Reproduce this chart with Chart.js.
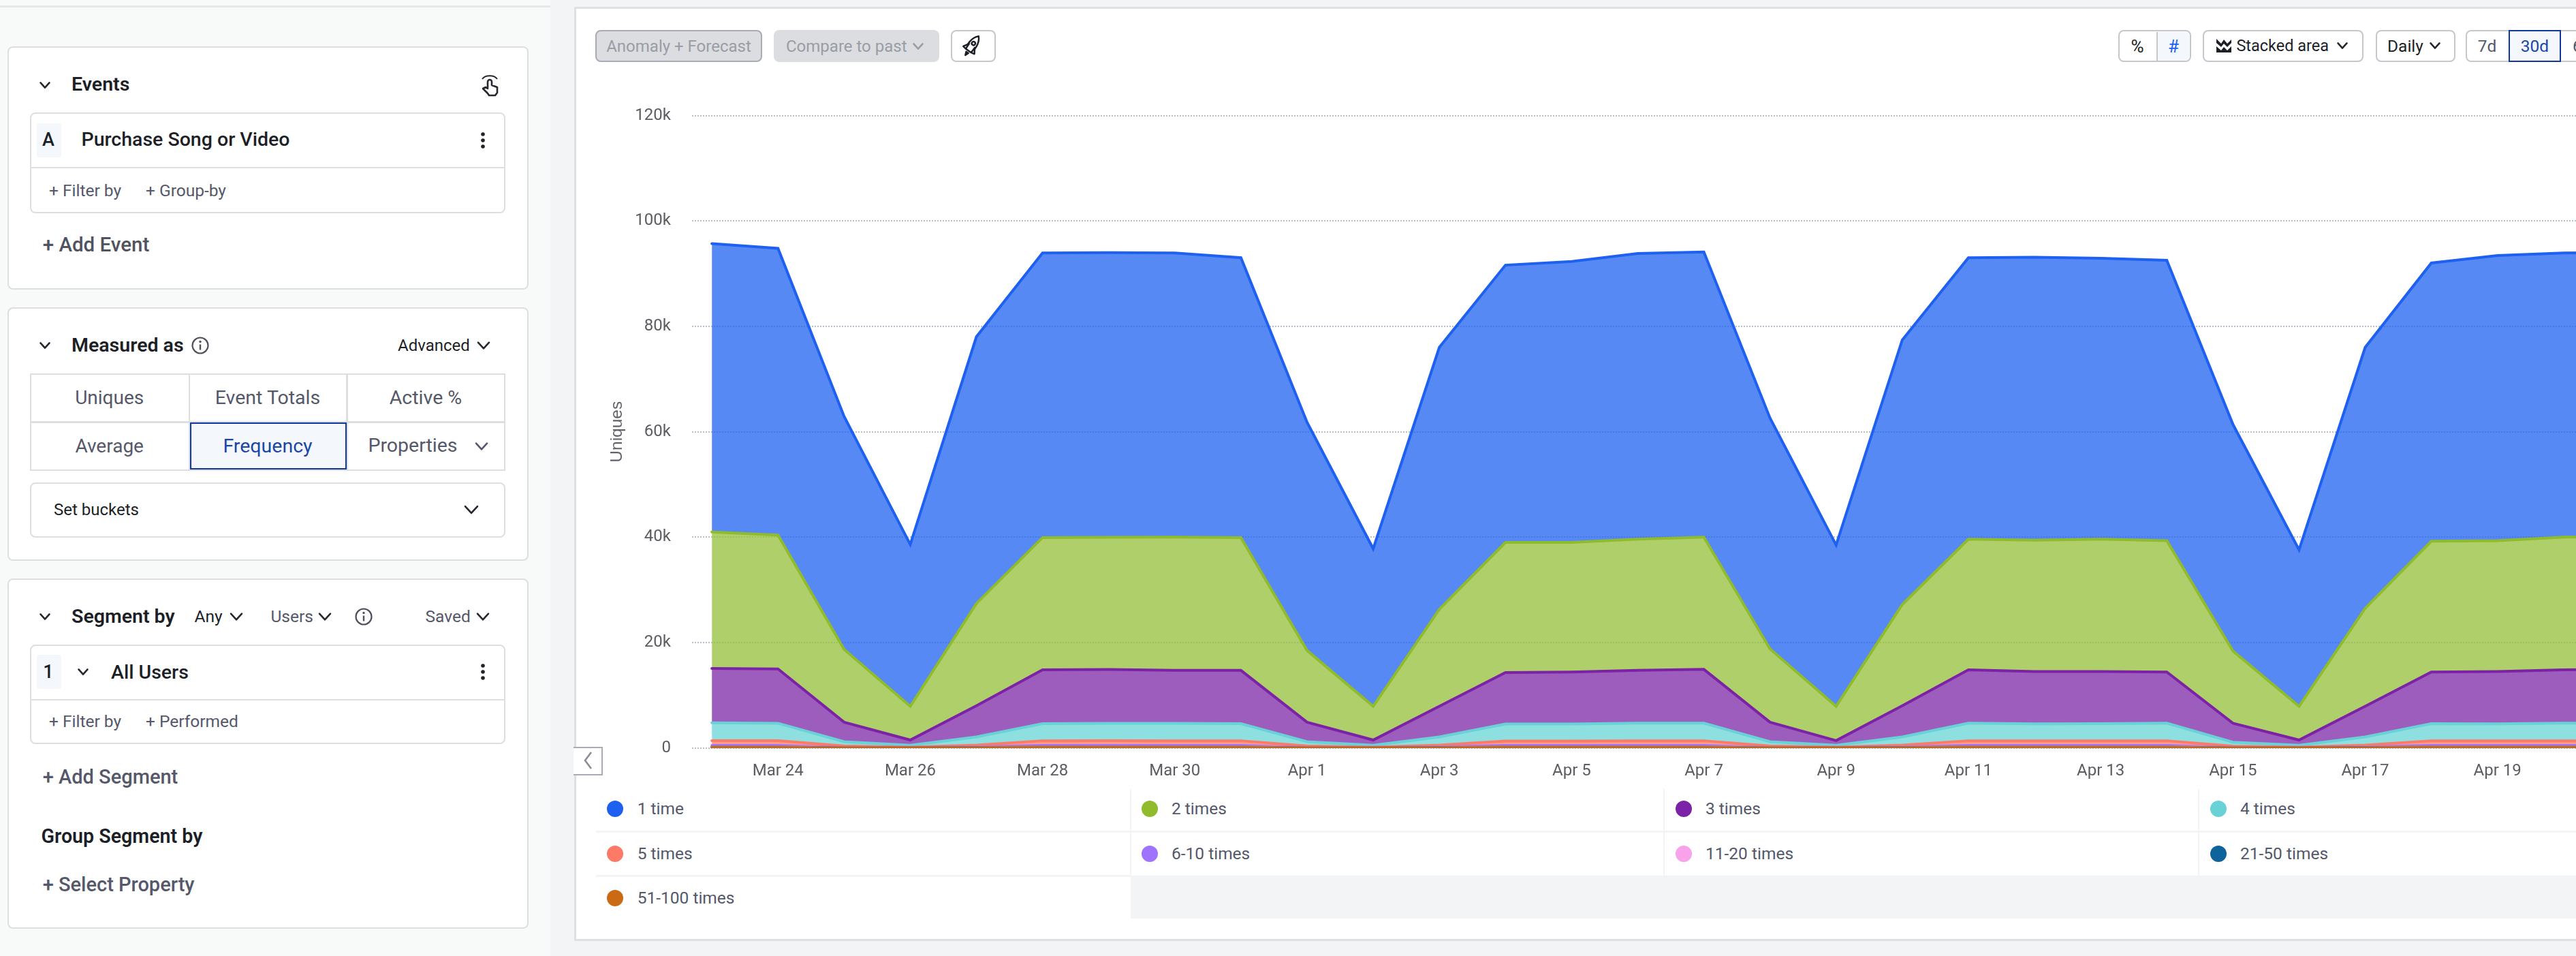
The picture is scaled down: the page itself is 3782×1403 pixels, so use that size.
<!DOCTYPE html>
<html><head><meta charset="utf-8">
<script src="https://cdn.jsdelivr.net/npm/chart.js@4/dist/chart.umd.min.js"></script>
<style>
html,body{margin:0;padding:0;width:3782px;height:1403px;overflow:hidden;background:#f3f4f6;font-family:Roboto,sans-serif;}
#page{position:absolute;left:0;top:0;width:3782px;height:1403px;overflow:hidden;}
.r{position:absolute;box-sizing:border-box;}
.t{position:absolute;white-space:nowrap;line-height:1;}
svg{position:absolute;overflow:visible;}
#cw{position:absolute;left:842px;top:140px;width:3048px;height:1020px;}
</style></head><body><div id="page"><div id="chrome"></div><div id="cw"><canvas id="c"></canvas></div><div id="over"></div></div>
<script>
// ---- chart data (thousands of uniques, per bucket, per day) ----
const dayLabels=['Mar 23','Mar 24','Mar 25','Mar 26','Mar 27','Mar 28','Mar 29','Mar 30','Mar 31','Apr 1','Apr 2','Apr 3','Apr 4','Apr 5','Apr 6','Apr 7','Apr 8','Apr 9','Apr 10','Apr 11','Apr 12','Apr 13','Apr 14','Apr 15','Apr 16','Apr 17','Apr 18','Apr 19','Apr 20','Apr 21'];
const tickDays=['Mar 24','Mar 26','Mar 28','Mar 30','Apr 1','Apr 3','Apr 5','Apr 7','Apr 9','Apr 11','Apr 13','Apr 15','Apr 17','Apr 19'];
const yTicks=[0,20,40,60,80,100,120];
const names=['1 time','2 times','3 times','4 times','5 times','6-10 times','11-20 times','21-50 times','51-100 times'];
const colors=['#1e61f0','#8fbb2c','#7c22a6','#68d2d6','#ff7a66','#a073ff','#f9a1e9','#0e639c','#cc6a14'];
const fills=['#1e61f0','#93bf38','#7c27a7','#68d4d4','#ff7a66','#a073ff','#f9a1e9','#0e639c','#cc6a14'];
const once=[54.7,54.4,44.2,30.7,50.6,54.0,54.0,53.9,53.1,43.3,29.9,49.7,52.6,53.3,54.2,54.1,43.8,30.6,50.2,53.4,53.7,53.3,53.2,43.0,29.7,49.5,52.8,54.1,53.9,53.9];
const twice=[25.9,25.4,13.8,6.4,19.4,25.1,25.1,25.3,25.2,13.6,6.4,18.4,24.7,24.6,24.9,25.1,13.9,6.5,19.2,24.8,24.9,25.1,24.9,13.7,6.4,18.6,24.8,24.8,25.2,25.2];
const thrice=[10.3,10.3,3.7,1.0,5.9,10.2,10.2,10.05,10.1,3.7,1.0,5.8,9.75,9.85,10.0,10.2,3.7,0.9,5.9,10.1,9.95,9.9,9.7,3.6,1.0,5.8,9.8,9.95,10.1,10.2];
const four=[3.4,3.3,0.8,0.35,1.55,3.25,3.3,3.3,3.25,0.8,0.35,1.55,3.25,3.25,3.35,3.35,0.8,0.35,1.55,3.35,3.2,3.25,3.35,0.75,0.35,1.55,3.25,3.2,3.35,3.35];
const five=[0.9,0.9,0.3,0.1,0.35,0.88,0.9,0.88,0.88,0.3,0.1,0.35,0.82,0.82,0.88,0.88,0.3,0.1,0.35,0.88,0.88,0.88,0.88,0.25,0.1,0.35,0.88,0.88,0.88,0.88];
const six10=[0.26,0.26,0.04,0.02,0.1,0.26,0.26,0.26,0.26,0.04,0.02,0.1,0.26,0.26,0.26,0.26,0.04,0.02,0.1,0.26,0.26,0.26,0.26,0.04,0.02,0.1,0.26,0.26,0.26,0.26];
const b11_20=[0.06,0.06,0.02,0.01,0.03,0.06,0.06,0.06,0.06,0.02,0.01,0.03,0.06,0.06,0.06,0.06,0.02,0.01,0.03,0.06,0.06,0.06,0.06,0.02,0.01,0.03,0.06,0.06,0.06,0.06];
const b21_50=[0.03,0.03,0.01,0.01,0.02,0.03,0.03,0.03,0.03,0.01,0.01,0.02,0.03,0.03,0.03,0.03,0.01,0.01,0.02,0.03,0.03,0.03,0.03,0.01,0.01,0.02,0.03,0.03,0.03,0.03];
const b51_100=[0.15,0.15,0.04,0.03,0.07,0.15,0.15,0.15,0.15,0.04,0.03,0.07,0.15,0.15,0.15,0.15,0.04,0.03,0.07,0.15,0.15,0.15,0.15,0.04,0.03,0.07,0.15,0.15,0.15,0.15];
const seriesValues=[once,twice,thrice,four,five,six10,b11_20,b21_50,b51_100];

// ---- chart ----
const FONT='Roboto, sans-serif';
function alpha(hex,a){const n=parseInt(hex.slice(1),16);return `rgba(${n>>16},${(n>>8)&255},${n&255},${a})`;}
const datasets=names.map((n,i)=>({
  label:n,
  data:seriesValues[i].map((v,d)=>({x:d,y:v})),
  borderColor:colors[i],backgroundColor:alpha(fills[i],.75),
  borderWidth:4,borderJoinStyle:'miter',borderCapStyle:'round',
  pointRadius:0,tension:0,
})).reverse();
datasets.forEach((d,i)=>d.fill=i===0?'origin':'-1');
const canvas=document.getElementById('c');
canvas.style.width='3048px';canvas.style.height='1020px';canvas.width=3048;canvas.height=1020;
new Chart(canvas,{
  type:'line',
  data:{datasets},
  options:{
    responsive:false,animation:false,devicePixelRatio:1,
    layout:{padding:{top:29.6,left:0,right:0,bottom:0}},
    plugins:{legend:{display:false},tooltip:{enabled:false}},
    scales:{
      x:{type:'linear',min:-0.3,max:29.3,
        afterBuildTicks:s=>{s.ticks=tickDays.map(t=>({value:dayLabels.indexOf(t)}));},
        afterFit:s=>{s.height=62.2;},
        grid:{display:false},border:{display:false},
        ticks:{autoSkip:false,maxRotation:0,minRotation:0,padding:12,color:'#5c5c62',font:{family:FONT,size:24},callback:v=>dayLabels[v]}},
      y:{stacked:true,min:0,max:120,
        afterBuildTicks:s=>{s.ticks=yTicks.map(v=>({value:v}));},
        afterFit:s=>{s.width=174;s.paddingTop=0;s.paddingBottom=0;},
        grid:{color:'#b4bfca',lineWidth:2,drawTicks:false},
        border:{display:false,dash:[2,2]},
        title:{display:true,text:'Uniques',color:'#62626a',font:{family:'"Liberation Sans", sans-serif',size:24.5},padding:{top:50,bottom:0}},
        ticks:{padding:31,color:'#5c5c62',font:{family:FONT,size:24},callback:v=>v===0?'0':v+'k'}}
    }
  }
});

// ---- page furniture ----
const root=document.getElementById('chrome'),over=document.getElementById('over');
function box(x0,y0,x1,y1,css,p){const e=document.createElement('div');e.className='r';e.style.cssText=`left:${x0}px;top:${y0}px;width:${x1-x0}px;height:${y1-y0}px;${css||''}`;(p||root).appendChild(e);return e;}
function text(s,x,cy,size,color,weight,align,p,ls){const e=document.createElement('div');e.className='t';e.textContent=s;
  const tr=align==='c'?'translate(-50%,-50%)':'translateY(-50%)';
  e.style.cssText=`left:${x}px;top:${cy}px;font-size:${size}px;color:${color};font-weight:${weight||400};transform:${tr};${ls?`letter-spacing:${ls}px;`:''}`;(p||root).appendChild(e);return e;}
function svg(inner,x,y,p){const d=document.createElementNS('http://www.w3.org/2000/svg','svg');d.setAttribute('width','1');d.setAttribute('height','1');d.style.left=x+'px';d.style.top=y+'px';d.innerHTML=inner;(p||root).appendChild(d);}
function chev(x,y,w,col,p,lw){w=w||8;svg(`<path d="M${-w} ${-w*.55} L0 ${w*.55} L${w} ${-w*.55}" fill="none" stroke="${col||'#26272e'}" stroke-width="${lw||2.6}" stroke-linecap="round" stroke-linejoin="round"/>`,x,y,p);}
function dots(x,y){svg(`<circle cy="-9" r="2.8" fill="#22232a"/><circle r="2.8" fill="#22232a"/><circle cy="9" r="2.8" fill="#22232a"/>`,x,y);}
function info(x,y){svg(`<circle r="11.5" fill="none" stroke="#4e505c" stroke-width="2.2"/><circle cy="-5.5" r="1.7" fill="#4e505c"/><path d="M0 -1.5 V6.5" stroke="#4e505c" stroke-width="2.4"/>`,x,y);}

const DK='#1d1f27',MID='#55586a',BD='#dcdee2',SEL='#f4f8fd';
box(0,0,3782,1403,'background:#f3f4f6');
box(0,0,808,1403,'background:#f8f9f9');
box(0,0,808,11,'background:#f8f9f9;border-bottom:3px solid #e6e7ea');
box(808,0,842,1403,'background:#f3f4f6');
box(842.5,9.5,3800,1381,'background:#fff;border:3px solid #dfe0e3');

const card=(y0,y1)=>box(11,y0,776,y1,`background:#fff;border:2.5px solid ${BD};border-radius:8px`);
const inner=(y0,y1,div)=>{box(44,y0,742,y1,`background:#fff;border:2.5px solid ${BD};border-radius:8px`);if(div)box(45,div-1,741,div+1,`background:${BD}`);};
// Events
card(68,425);
chev(66,125,6.5);text('Events',105,124,28.5,DK,600);
svg(`<path d="M-11 -9 A12 8 0 0 1 11 -9" fill="none" stroke="#26272e" stroke-width="2"/><path d="M-3 12 L-10 5 L-6 3 L-3 5 V-5 A3 3 0 0 1 3 -5 V0 L11 3 V11 L8 15 H-1 Z" fill="#fff" stroke="#26272e" stroke-width="2.6" stroke-linejoin="round"/>`,719,125);
inner(165,312.5,246);
box(53.5,181,89.5,231,`background:${SEL};border-radius:3px`);
text('A',71,205,27,DK,500,'c');
text('Purchase Song or Video',119.5,205,28.5,DK,500);dots(708.6,206);
text('+ Filter by',72,279.5,24.5,MID);text('+ Group-by',214,279.5,24.5,MID);
text('+ Add Event',62.7,360,29.5,'#50535f',500);
// Measured
card(451,822.5);
chev(66,507,6.5);text('Measured as',105,507,28.5,DK,600);info(294,507);
text('Advanced',584,507,24,DK);chev(710,507,8);
box(44,548,742,691,`border:2.5px solid ${BD};background:#fff`);
box(44,618,742,620.5,`background:${BD}`);box(276.5,548,279,691,`background:${BD}`);box(508,548,510.5,691,`background:${BD}`);
box(278.5,620,509,688.5,`background:${SEL};border:2.5px solid #12389c`);
text('Uniques',160.7,583.5,28,MID,400,'c');text('Event Totals',393,583.5,28.5,MID,400,'c');text('Active %',625,583.5,28.5,MID,400,'c');
text('Average',160.7,655,28,MID,400,'c');text('Frequency',393,655,28.5,'#1a46a8',400,'c');text('Properties',606,654,28.5,MID,400,'c');chev(707,655,8,MID);
inner(707.5,789);
text('Set buckets',79,748,24,DK);chev(691.5,748,9);
// Segment
card(848.5,1363);
chev(66,905,6.5);text('Segment by',105,904.5,28.5,DK,600);
text('Any',285.5,904.5,24.5,DK);chev(346.5,905,8);
text('Users',397.4,904.5,24.5,MID);chev(477,905,8);info(534,905);
text('Saved',624.5,904.5,24.5,MID);chev(709,905,8);
inner(945.7,1092.4,1027);
box(53.5,961.4,89.5,1010.8,`background:${SEL};border-radius:3px`);
text('1',71,985.6,27,DK,500,'c');chev(121.6,986,6.5);
text('All Users',163,987.4,28.5,DK,500);dots(708.6,986);
text('+ Filter by',72,1059,24.5,MID);text('+ Performed',214,1059,24.5,MID);
text('+ Add Segment',62.7,1140,29,MID,500);
text('Group Segment by',60.5,1227,28.6,DK,600);
text('+ Select Property',62.7,1298,29,MID,500);

// toolbar
box(874,44,1119,91,'background:#dcdde0;border:2.5px solid #a9abb5;border-radius:8px');
text('Anomaly + Forecast',996.5,67.5,24,'#9a9ca6',400,'c');
box(1136,44,1379,91,'background:#dcdde0;border-radius:8px');
text('Compare to past',1154,67.5,24,'#9a9ca6');chev(1348,67.5,6.5,'#9a9ca6');
box(1395.5,44,1462,91,`background:#fff;border:2.5px solid #c5c7cd;border-radius:8px`);
svg(`<g transform="rotate(35)" fill="#fff" stroke="#1d1f27" stroke-width="2.4" stroke-linejoin="round"><path d="M0 -17 C8 -9 7 4 4 9 H-4 C-7 4 -8 -9 0 -17 Z"/><path d="M-5 0 L-10 8 L-5 9 Z M5 0 L10 8 L5 9 Z"/><circle cy="-4" r="2.6"/><path d="M-2 12 L0 17 L2 12 Z" fill="#1d1f27"/></g>`,1427,67);
box(3110,44,3216.5,91,'background:#fff;border:2.5px solid #c5c7cd;border-radius:8px;');
box(3165.5,46.5,3214,88.5,`background:${SEL};border-left:2px solid #c5c7cd;border-radius:0 6px 6px 0`);
text('%',3138,67.5,26,DK,400,'c');text('#',3191,67.5,26,'#1e61f0',400,'c');
box(3234,44,3470,91,'background:#fff;border:2.5px solid #c5c7cd;border-radius:8px');
svg(`<path d="M-11 -10 L-4 -3 L0 -9 L5 -3 L11 -9 V-4 L5 2 L0 -3 L-4 2 L-11 -4 Z M-11 1 L-4 7 L0 2 L5 7 L11 1 V10 H-11 Z" fill="#1d1f27"/>`,3264.5,67);
text('Stacked area',3283.4,67.5,23.5,DK);chev(3438.7,66.5,6.5);
box(3487.5,44,3605,91,'background:#fff;border:2.5px solid #c5c7cd;border-radius:8px');
text('Daily',3505,67.5,24.5,DK);chev(3574.6,66.5,6.5);
box(3620,44,3800,91,'background:#fff;border:2.5px solid #c5c7cd;border-radius:8px');
text('7d',3651.6,67.5,24.5,MID,400,'c');
text('60d',3777,67.5,24.5,MID);
box(3683,44,3760,91,`background:${SEL};border:2.5px solid #12389c`);
text('30d',3721.5,67.5,24.5,'#1a46a8',400,'c');

// legend
const colX=[875,1659.5,2443,3228],dotX=[903,1688,2472,3257],txtX=[935.7,1720,2504,3289],rowY=[1187,1252.7,1318];
const SEP='#f3f4f6';
box(875,1219,3782,1222,`background:${SEP}`);
box(875,1284,1660,1287,`background:${SEP}`);
box(1659.5,1285,3782,1348,`background:${SEP}`);
[1,2,3].forEach(c=>box(colX[c]-1,1158,colX[c]+1,1285,`background:${SEP}`));
names.forEach((n,i)=>{const c=i%4,r=Math.floor(i/4);
  box(dotX[c]-12,rowY[r]-12,dotX[c]+12,rowY[r]+12,`background:${colors[i]};border-radius:50%`);
  text(n,txtX[c],rowY[r],24.5,MID);
});
// collapse button sits over the canvas
box(842,1096,885,1138,'background:#fff;border:2.5px solid #a9abb5;border-left:none',over);
svg(`<path d="M5 -12 L-4 0 L5 12" fill="none" stroke="#8a8d97" stroke-width="2.6"/>`,863,1116,over);
</script></body></html>
